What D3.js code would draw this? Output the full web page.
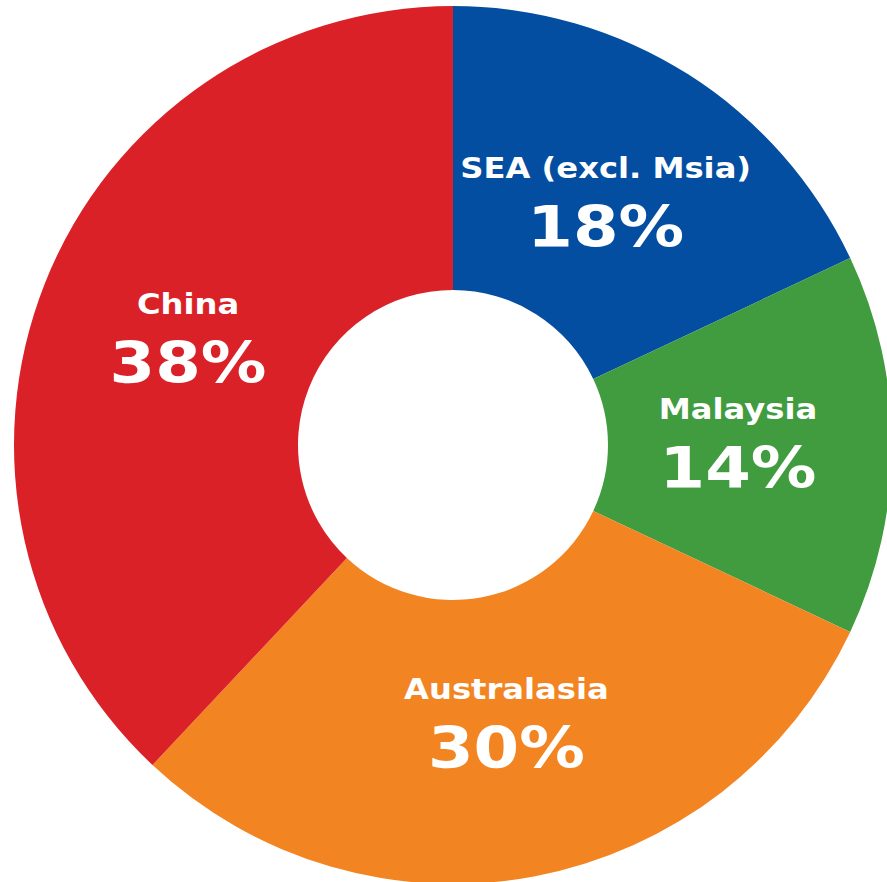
<!DOCTYPE html>
<html>
<head>
<meta charset="utf-8">
<script src="https://cdn.jsdelivr.net/npm/d3@7"></script>
<style>
  html, body { margin: 0; padding: 0; background: #fff; }
  svg { display: block; }
</style>
</head>
<body>
<svg width="887" height="882"></svg>
<script>
// data, clockwise from 12 o'clock
const regions = ['SEA (excl. Msia)', 'Malaysia', 'Australasia', 'China'];
const shares = [18, 14, 30, 38];
const colours = ['#044ea1', '#409c3f', '#f28522', '#da2128'];

const svg = d3.select('svg'),
  width = +svg.attr('width'),
  height = +svg.attr('height');

const cx = 453, cy = 445;
const outerR = 439, innerR = 155;

const data = regions.map((name, i) => ({ name, value: shares[i], colour: colours[i] }));

const pie = d3.pie()
  .sort(null)
  .value(d => d.value);

const arc = d3.arc()
  .innerRadius(innerR)
  .outerRadius(outerR);

// centroid of this arc sits at the label radius
const labelArc = d3.arc()
  .innerRadius(285)
  .outerRadius(285);

const g = svg.append('g')
  .attr('transform', `translate(${cx},${cy})`);

const arcs = pie(data);

g.selectAll('path')
  .data(arcs)
  .enter().append('path')
  .attr('d', arc)
  .style('fill', d => d.data.colour);

// Verdana-like wide bold: stretch DejaVu Sans Bold a little horizontally
const label = g.selectAll('g.label')
  .data(arcs)
  .enter().append('g')
  .attr('class', 'label')
  .attr('transform', d => `translate(${labelArc.centroid(d)}) scale(1.15,1)`)
  .style('font-family', '"DejaVu Sans", Verdana, sans-serif')
  .style('font-weight', 'bold')
  .style('fill', '#fff')
  .attr('text-anchor', 'middle');

label.append('text')
  .attr('y', -26)
  .style('font-size', '28px')
  .text(d => d.data.name);

label.append('text')
  .attr('y', 43)
  .style('font-size', '57px')
  .text(d => d.data.value + '%');
</script>
</body>
</html>
